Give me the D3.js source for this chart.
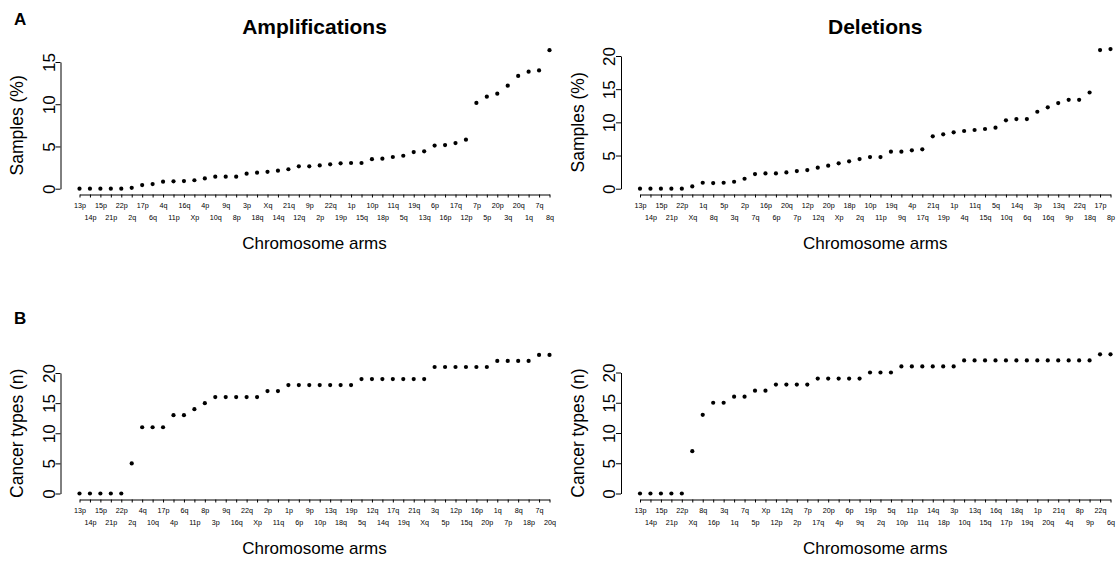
<!DOCTYPE html>
<html>
<head>
<meta charset="utf-8">
<script src="https://cdn.jsdelivr.net/npm/d3@7"></script>
<style>
  body { margin: 0; background: #fff; }
  svg { font-family: "Liberation Sans", Arial, sans-serif; }
</style>
</head>
<body>
<div id="chart"></div>
<script>
// ---- data: arms sorted by value, one list per panel ----
const ampPctArms = ['13p','14p','15p','21p','22p','2q','17p','6q','4q','11p','16q','Xp','4p','10q','9q','8p','3p','18q','Xq','14q','21q','12q','9p','2p','22q','19p','1p','15q','10p','18p','11q','5q','19q','13q','6p','16p','17q','12p','7p','5p','20p','3q','20q','1q','7q','8q'];
const ampPctValues = [0,0,0,0,0,0.1,0.43,0.55,0.83,0.87,0.9,1.0,1.22,1.42,1.42,1.42,1.78,1.9,2.0,2.13,2.3,2.65,2.65,2.76,2.88,3.0,3.04,3.04,3.5,3.55,3.75,3.9,4.34,4.42,5.1,5.17,5.4,5.8,10.15,10.9,11.25,12.2,13.35,13.86,14.0,16.4];

const delPctArms = ['13p','14p','15p','21p','22p','Xq','1q','8q','5p','3q','2p','7q','16p','6p','20q','7p','12p','12q','20p','Xp','18p','2q','10p','11p','19q','9q','4p','17q','21q','19p','1p','4q','11q','15q','5q','10q','14q','6q','3p','16q','13q','9p','22q','18q','17p','8p'];
const delPctValues = [0,0,0,0,0,0.35,0.9,0.85,0.9,1.05,1.5,2.2,2.3,2.3,2.46,2.66,2.8,3.17,3.47,3.82,4.12,4.47,4.77,4.77,5.58,5.58,5.78,5.93,7.9,8.2,8.5,8.7,8.85,9.0,9.2,10.3,10.5,10.5,11.6,12.26,12.9,13.4,13.4,14.5,20.9,21.05];

const ampTypeArms = ['13p','14p','15p','21p','22p','2q','4q','10q','17p','4p','6q','11p','8p','3p','9q','16q','22q','Xp','2p','11q','1p','6p','9p','10p','13q','18q','19p','5q','12q','14q','17q','19q','21q','Xq','3q','5p','12p','15q','16p','20p','1q','7p','8q','18p','7q','20q'];
const ampTypeCounts = [0,0,0,0,0,5,11,11,11,13,13,14,15,16,16,16,16,16,17,17,18,18,18,18,18,18,18,19,19,19,19,19,19,19,21,21,21,21,21,21,22,22,22,22,23,23];

const delTypeArms = ['13p','14p','15p','21p','22p','Xq','8q','16p','3q','1q','7q','5p','Xp','12p','12q','2p','7p','17q','20p','4p','6p','9q','19p','2q','5q','10p','11p','11q','14q','18p','3p','10q','13q','15q','16q','17p','18q','19q','1p','20q','21q','4q','8p','9p','22q','6q'];
const delTypeCounts = [0,0,0,0,0,7,13,15,15,16,16,17,17,18,18,18,18,19,19,19,19,19,20,20,20,21,21,21,21,21,21,22,22,22,22,22,22,22,22,22,22,22,22,22,23,23];

const ampPctTicks = [0, 5, 10, 15];
const delPctTicks = [0, 5, 10, 15, 20];
const countTicks = [0, 5, 10, 15, 20];

const width = 1119;
const height = 563;

const svg = d3.select('#chart')
    .append('svg')
    .attr('width', width)
    .attr('height', height);

// layout of the four panels (pixel positions)
const panels = [
    { arms: ampPctArms, values: ampPctValues, ticks: ampPctTicks, title: 'Amplifications', yLabel: 'Samples (%)',
      left: 60.5, x0: 79.5, x1: 549.5, yBase: 188.7, yTop: 62, axisY: 194.5 },
    { arms: delPctArms, values: delPctValues, ticks: delPctTicks, title: 'Deletions', yLabel: 'Samples (%)',
      left: 621, x0: 640, x1: 1110.5, yBase: 188.7, yTop: 56, axisY: 194.5 },
    { arms: ampTypeArms, values: ampTypeCounts, ticks: countTicks, title: null, yLabel: 'Cancer types (n)',
      left: 60.5, x0: 79.5, x1: 549.5, yBase: 493.5, yTop: 373, axisY: 499.5 },
    { arms: delTypeArms, values: delTypeCounts, ticks: countTicks, title: null, yLabel: 'Cancer types (n)',
      left: 621, x0: 640, x1: 1110.5, yBase: 493.5, yTop: 372.5, axisY: 499.5 }
];

function drawPanel(p) {
    const g = svg.append('g');

    const x = d3.scalePoint().domain(p.arms).range([p.x0, p.x1]);
    const y = d3.scaleLinear().domain([0, d3.max(p.ticks)]).range([p.yBase, p.yTop]);

    // y axis, labels parallel to the axis (R style)
    const yAxis = g.append('g')
        .attr('transform', `translate(${p.left},0)`)
        .call(d3.axisLeft(y).tickValues(p.ticks).tickSize(5).tickSizeOuter(0))
        .attr('font-size', null)
        .attr('font-family', null);
    yAxis.selectAll('text')
        .attr('transform', 'rotate(-90)')
        .attr('x', 0)
        .attr('y', -6)
        .attr('dy', 0)
        .attr('text-anchor', 'middle')
        .style('font-size', '17px')
        .attr('fill', '#000');

    // x axis with alternating label rows
    const xAxis = g.append('g')
        .attr('transform', `translate(0,${p.axisY})`)
        .call(d3.axisBottom(x).tickSize(3).tickSizeOuter(0))
        .attr('font-size', null)
        .attr('font-family', null);
    xAxis.selectAll('.tick text')
        .attr('y', (d, i) => i % 2 ? 25 : 13)
        .attr('dy', 0)
        .style('font-size', '7.2px')
        .attr('fill', '#000');
    xAxis.selectAll('path, line').attr('stroke', '#000');
    yAxis.selectAll('path, line').attr('stroke', '#000');

    // points
    g.selectAll('circle')
        .data(p.values)
        .join('circle')
        .attr('cx', (d, i) => x(p.arms[i]))
        .attr('cy', d => y(d))
        .attr('r', 2.1)
        .attr('fill', '#000');

    // axis titles
    g.append('text')
        .attr('x', (p.x0 + p.x1) / 2)
        .attr('y', p.axisY + 54)
        .attr('text-anchor', 'middle')
        .style('font-size', '17px')
        .text('Chromosome arms');

    g.append('text')
        .attr('transform', `translate(${p.left - 37.5},${(p.yBase + p.yTop) / 2}) rotate(-90)`)
        .attr('text-anchor', 'middle')
        .style('font-size', '17.5px')
        .text(p.yLabel);

    if (p.title) {
        g.append('text')
            .attr('x', (p.x0 + p.x1) / 2)
            .attr('y', 34)
            .attr('text-anchor', 'middle')
            .style('font-size', '21px')
            .style('font-weight', 'bold')
            .text(p.title);
    }
}

panels.forEach(drawPanel);

// panel letters
svg.append('text').attr('x', 14).attr('y', 25)
    .style('font-size', '17px').style('font-weight', 'bold').text('A');
svg.append('text').attr('x', 14).attr('y', 324)
    .style('font-size', '17px').style('font-weight', 'bold').text('B');
</script>
</body>
</html>
